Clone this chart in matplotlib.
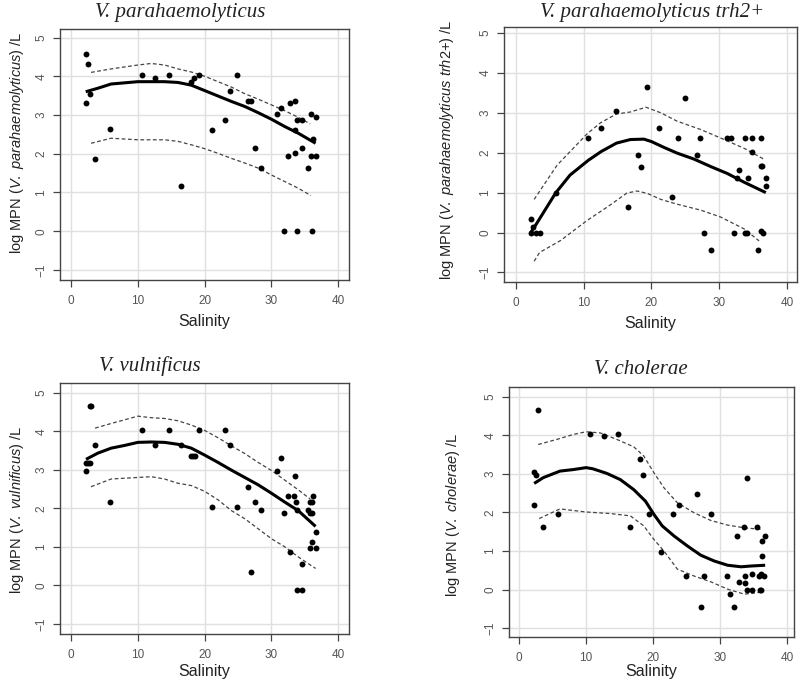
import matplotlib
matplotlib.use("Agg")
import matplotlib.pyplot as plt

plt.rcParams['mathtext.fontset'] = 'custom'
plt.rcParams['mathtext.rm'] = 'Liberation Sans'
plt.rcParams['mathtext.it'] = 'Liberation Sans:italic'
plt.rcParams['font.family'] = ['Liberation Sans', 'DejaVu Sans']

# ---------------- Panel 1: V. parahaemolyticus ----------------
p1_sal = [2.24, 2.54, 2.24, 2.89, 3.59, 5.78, 10.56, 12.5, 14.7, 16.4, 17.9, 18.4, 19.2,
          21.1, 23.0, 23.8, 24.8, 26.5, 27.0, 27.5, 28.5, 30.8, 31.4, 31.9, 32.4, 32.7,
          33.5, 33.5, 33.5, 33.8, 33.8, 34.6, 34.6, 35.4, 35.9, 35.9, 36.0, 36.2, 36.6, 36.6]
p1_mpn = [4.57, 4.31, 3.30, 3.54, 1.87, 2.65, 4.02, 3.95, 4.02, 1.17, 3.85, 3.95, 4.02,
          2.62, 2.87, 3.63, 4.02, 3.37, 3.37, 2.16, 1.62, 3.03, 3.17, 0.0, 1.94, 3.30,
          2.01, 3.36, 2.62, 2.87, 0.0, 2.87, 2.16, 1.62, 3.03, 1.94, 0.0, 2.38, 2.96, 1.94]
p1_fit_x = [2.2, 4, 6, 8, 10, 12, 14, 16, 18, 20, 22, 24, 26, 28, 30, 32, 34, 36.6]
p1_fit = [3.60, 3.69, 3.80, 3.83, 3.86, 3.86, 3.86, 3.84, 3.77, 3.63, 3.49, 3.35, 3.22,
          3.06, 2.89, 2.70, 2.53, 2.27]
p1_up_x = [3, 6, 10, 12, 14, 16, 18, 20, 22, 24, 26, 28, 30, 32, 34, 35.8]
p1_up = [4.10, 4.19, 4.29, 4.33, 4.29, 4.19, 4.11, 4.00, 3.86, 3.72, 3.55, 3.41, 3.26,
         3.11, 2.94, 2.77]
p1_lo_x = [3, 6, 10, 14, 16, 18, 20, 22, 24, 26, 28, 30, 32, 34, 35.9]
p1_lo = [2.27, 2.40, 2.36, 2.36, 2.32, 2.23, 2.13, 2.01, 1.88, 1.76, 1.63, 1.45, 1.28,
         1.11, 0.92]

# ---------------- Panel 2: V. parahaemolyticus trh2+ ----------------
p2_sal = [2.22, 2.22, 2.5, 2.9, 3.55, 5.87, 10.7, 12.6, 14.85, 16.6, 18.05, 18.5, 19.4,
          21.2, 23.1, 24.0, 25.0, 26.7, 27.2, 27.7, 28.8, 31.1, 31.7, 32.2, 32.7, 33.0,
          33.8, 33.8, 34.1, 34.2, 34.9, 34.9, 35.8, 36.2, 36.2, 36.4, 36.2, 36.5, 36.9, 36.9]
p2_mpn = [0.35, 0.0, 0.15, 0.0, 0.0, 0.99, 2.38, 2.62, 3.04, 0.64, 1.95, 1.63, 3.65,
          2.62, 0.88, 2.38, 3.37, 1.95, 2.38, 0.0, -0.44, 2.38, 2.38, 0.0, 1.37, 1.57,
          2.38, 0.0, 0.0, 1.37, 2.38, 2.03, -0.44, 2.36, 1.67, 1.67, 0.04, 0.0, 1.37, 1.17]
p2_fit_x = [2.2, 2.9, 5.87, 8.0, 10.7, 12.6, 14.85, 16.9, 18.9, 20, 21.9, 23.8, 26.3,
            28.8, 31.2, 33.7, 36.9]
p2_fit = [0.0, 0.18, 0.99, 1.44, 1.81, 2.03, 2.24, 2.33, 2.34, 2.28, 2.13, 1.99, 1.84,
          1.65, 1.48, 1.26, 1.0]
p2_up_x = [2.7, 6.1, 10.5, 12.5, 14.85, 16.9, 19.2, 21.4, 23.8, 27.3, 30.2, 33.7, 36.8]
p2_up = [0.83, 1.69, 2.47, 2.75, 2.97, 3.02, 3.14, 3.0, 2.79, 2.58, 2.37, 2.11, 1.82]
p2_lo_x = [2.7, 3.5, 6.6, 10.5, 13.5, 16.4, 17.9, 19.4, 21.4, 23.8, 27.3, 30.2, 33.7, 35.9]
p2_lo = [-0.72, -0.5, -0.2, 0.30, 0.64, 0.99, 1.04, 0.98, 0.83, 0.71, 0.56, 0.39, 0.09,
         -0.21]

# ---------------- Panel 3: V. vulnificus ----------------
p3_sal = [2.24, 2.24, 2.54, 2.8, 2.84, 3.0, 3.59, 5.78, 10.66, 12.5, 14.7, 16.4, 17.9,
          18.2, 18.6, 19.2, 21.1, 23.0, 23.8, 24.8, 26.5, 27.0, 27.5, 28.5, 30.8, 31.4,
          31.8, 32.4, 32.7, 33.5, 33.4, 33.6, 33.8, 33.8, 34.6, 34.6, 35.4, 35.8, 35.7,
          36.0, 36.0, 36.2, 36.1, 35.8, 36.6, 36.6]
p3_mpn = [2.97, 3.17, 3.17, 3.17, 4.65, 4.65, 3.65, 2.17, 4.02, 3.64, 4.02, 3.65, 3.36,
          3.36, 3.36, 4.02, 2.03, 4.02, 3.65, 2.03, 2.55, 0.35, 2.17, 1.95, 2.97, 3.31,
          1.87, 2.32, 0.86, 2.85, 2.32, 2.17, 1.95, -0.12, -0.12, 0.55, 1.95, 2.17, 1.87,
          2.17, 1.87, 2.32, 1.13, 0.96, 0.96, 1.38]
p3_fit_x = [2.24, 4, 6, 8, 10, 12, 14, 16, 18, 20, 22, 24, 26, 28, 30, 32, 34, 36.6]
p3_fit = [3.27, 3.43, 3.56, 3.63, 3.71, 3.72, 3.71, 3.66, 3.56, 3.38, 3.19, 2.99, 2.80,
          2.61, 2.39, 2.16, 1.94, 1.53]
p3_up_x = [3.6, 6, 10, 12, 14, 16, 18, 20, 22, 24, 26, 28, 30, 32, 34, 35.8]
p3_up = [4.08, 4.20, 4.39, 4.35, 4.33, 4.27, 4.16, 4.02, 3.83, 3.62, 3.42, 3.19, 2.98,
         2.73, 2.48, 2.24]
p3_lo_x = [3, 6, 10, 12, 14, 16, 18, 20, 22, 24, 26, 28, 30, 32, 34, 36.6]
p3_lo = [2.56, 2.76, 2.80, 2.82, 2.76, 2.65, 2.59, 2.44, 2.22, 1.94, 1.73, 1.47, 1.21,
         1.0, 0.74, 0.44]

# ---------------- Panel 4: V. cholerae ----------------
p4_sal = [2.25, 2.25, 2.55, 2.85, 3.55, 5.75, 10.6, 12.6, 14.8, 16.5, 18.0, 18.5, 19.35,
          21.1, 23.0, 23.85, 24.9, 26.6, 27.1, 27.6, 28.6, 30.95, 31.5, 32.0, 32.5, 32.85,
          33.6, 33.65, 33.7, 33.95, 34.0, 34.7, 34.7, 35.5, 35.85, 35.95, 36.15, 36.05,
          36.2, 36.3, 36.6, 36.65]
p4_mpn = [3.05, 2.18, 2.98, 4.66, 1.63, 1.97, 4.04, 3.97, 4.04, 1.63, 3.38, 2.98, 1.97,
          0.97, 1.97, 2.18, 0.35, 2.48, -0.44, 0.35, 1.97, 0.35, -0.12, -0.44, 1.39, 0.20,
          1.63, 0.35, 0.16, 0.0, 2.88, 0.0, 0.40, 1.63, 0.35, 0.0, 0.0, 0.40,
          0.87, 1.26, 0.35, 1.39]
p4_fit_x = [2.25, 3.6, 6.1, 8.1, 10, 11, 13.1, 15.1, 17.1, 18.85, 20.1, 21.35, 23.1, 25.1,
            27.1, 29.1, 31.1, 33.1, 34.6, 36.7]
p4_fit = [2.75, 2.90, 3.07, 3.11, 3.16, 3.13, 3.01, 2.85, 2.59, 2.29, 1.95, 1.65, 1.39,
          1.13, 0.89, 0.74, 0.63, 0.59, 0.61, 0.63]
p4_up_x = [2.85, 5.6, 8.1, 10, 12.1, 14.6, 17.1, 18.6, 20.1, 21.6, 23.6, 26.1, 28.6, 31.1,
           33.6, 36.1]
p4_up = [3.76, 3.89, 4.02, 4.09, 4.06, 3.89, 3.70, 3.46, 3.03, 2.64, 2.25, 1.99, 1.79,
         1.67, 1.60, 1.56]
p4_lo_x = [3.0, 6.1, 10, 13.6, 16.6, 18.6, 20.1, 21.6, 23.6, 26.1, 28.6, 31.1, 33.6,
           35.1, 36.4]
p4_lo = [1.84, 2.09, 2.01, 1.97, 1.91, 1.65, 1.30, 1.0, 0.53, 0.35, 0.20, 0.01, -0.12,
         -0.09, -0.06]

x_ticks = [0, 10, 20, 30, 40]
y_ticks = [-1, 0, 1, 2, 3, 4, 5]

panels = [
    dict(pos=[60, 29, 349, 280], xlim=(-1.65, 41.6), ylim=(-1.26, 5.22), xlpad=5,
         sal=p1_sal, mpn=p1_mpn, fx=p1_fit_x, f=p1_fit, ux=p1_up_x, u=p1_up, lx=p1_lo_x, l=p1_lo,
         title="V. parahaemolyticus", tpos=(180, 12),
         ylabel=r"log MPN ($\mathit{V.\ parahaemolyticus}$) /L", ylpos=(17, 143)),
    dict(pos=[504, 27, 797, 282], xlim=(-1.75, 41.5), ylim=(-1.24, 5.15), xlpad=5,
         sal=p2_sal, mpn=p2_mpn, fx=p2_fit_x, f=p2_fit, ux=p2_up_x, u=p2_up, lx=p2_lo_x, l=p2_lo,
         title="V. parahaemolyticus trh2+", tpos=(652, 12),
         ylabel=r"log MPN ($\mathit{V.\ parahaemolyticus\ trh2}$+) /L", ylpos=(447, 150)),
    dict(pos=[60, 383, 349, 634], xlim=(-1.65, 41.6), ylim=(-1.26, 5.25), xlpad=2,
         sal=p3_sal, mpn=p3_mpn, fx=p3_fit_x, f=p3_fit, ux=p3_up_x, u=p3_up, lx=p3_lo_x, l=p3_lo,
         title="V. vulnificus", tpos=(150, 366),
         ylabel=r"log MPN ($\mathit{V.\ vulnificus}$) /L", ylpos=(17, 510)),
    dict(pos=[509, 387, 794, 637], xlim=(-1.5, 41.0), ylim=(-1.23, 5.25), xlpad=0,
         sal=p4_sal, mpn=p4_mpn, fx=p4_fit_x, f=p4_fit, ux=p4_up_x, u=p4_up, lx=p4_lo_x, l=p4_lo,
         title="V. cholerae", tpos=(641, 369),
         ylabel=r"log MPN ($\mathit{V.\ cholerae}$) /L", ylpos=(453, 515)),
]

W, H = 800, 685
fig = plt.figure(figsize=(8.0, 6.85), dpi=100)
axis_col = "#555555"
for p in panels:
    x0, y0, x1, y1 = p["pos"]
    ax = fig.add_axes([x0 / W, 1 - y1 / H, (x1 - x0) / W, (y1 - y0) / H])
    ax.set_xlim(*p["xlim"])
    ax.set_ylim(*p["ylim"])
    ax.set_xticks(x_ticks)
    ax.set_yticks(y_ticks)
    ax.grid(True, color="#e0e0e0", linewidth=1.0)
    ax.set_axisbelow(True)
    for s in ax.spines.values():
        s.set_color("#444444")
        s.set_linewidth(1.0)
    ax.tick_params(axis="both", direction="out", length=5, width=0.9, color="#444444",
                   labelcolor=axis_col, labelsize=8.5, pad=6)
    ax.tick_params(axis="y", labelrotation=90, pad=4)
    for lab in ax.get_yticklabels():
        lab.set_verticalalignment("center")
    ax.plot(p["ux"], p["u"], color="#444444", linestyle=(0, (3, 2)), linewidth=0.9)
    ax.plot(p["lx"], p["l"], color="#444444", linestyle=(0, (3, 2)), linewidth=0.9)
    ax.plot(p["fx"], p["f"], color="black", linewidth=2.2, solid_capstyle="butt")
    ax.scatter(p["sal"], p["mpn"], s=18, color="black", zorder=3, linewidths=0)
    ax.set_xlabel("Salinity", fontsize=11.5, color="#222222", labelpad=p["xlpad"])
    fig.text(p["tpos"][0] / W, 1 - p["tpos"][1] / H, p["title"], ha="center", va="center",
             fontsize=15, family="Liberation Serif", style="italic", color="#222222")
    fig.text(p["ylpos"][0] / W, 1 - p["ylpos"][1] / H, p["ylabel"], ha="center", va="center",
             rotation=90, fontsize=10.5, color="#222222")

fig.savefig("out.png", dpi=100)
